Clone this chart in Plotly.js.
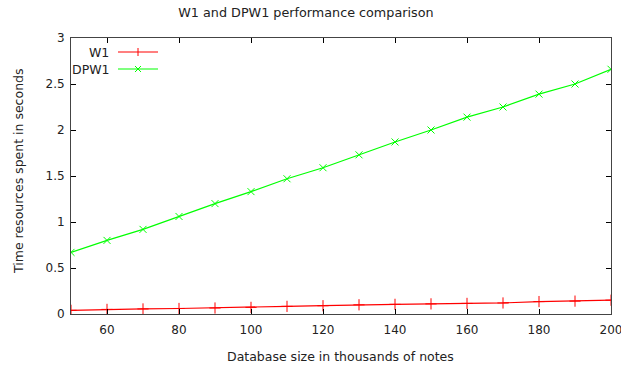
<!DOCTYPE html>
<html><head><meta charset="utf-8">
<script src="https://cdn.plot.ly/plotly-3.0.1.min.js"></script>
<style>html,body{margin:0;padding:0;background:#fff}#c{width:621px;height:366px}</style>
</head><body><div id="c"></div>
<script>
const dbSize = [50,60,70,80,90,100,110,120,130,140,150,160,170,180,190,200];
const w1 = [0.04,0.05,0.055,0.06,0.065,0.072,0.083,0.09,0.10,0.105,0.11,0.115,0.12,0.135,0.14,0.15];
const dpw1 = [0.67,0.80,0.92,1.06,1.20,1.33,1.47,1.59,1.73,1.87,2.00,2.14,2.25,2.39,2.50,2.66];
const seriesNames = ['W1','DPW1'];
const seriesColors = ['#ff0000','#00ff00'];
const xTicks = [60,80,100,120,140,160,180,200];
const yTicks = [0,0.5,1,1.5,2,2.5,3];
const yTickText = ['0','0.5','1','1.5','2','2.5','3'];

const W=621,H=366,L=71,R=10,T=38,B=52;
const pw=W-L-R, ph=H-T-B;
const px=x=>(x-L)/pw, py=y=>(H-B-y)/ph;
const ff='DejaVu Sans, sans-serif';
const font={family:ff,size:12.5,color:'#222'};
const tfont={family:ff,size:12,color:'#222'};

const traces=[
 {x:dbSize,y:w1,name:seriesNames[0],mode:'lines+markers',line:{color:seriesColors[0],width:1.2},
  marker:{symbol:'cross-thin',size:8,line:{color:seriesColors[0],width:1}}},
 {x:dbSize,y:dpw1,name:seriesNames[1],mode:'lines+markers',line:{color:seriesColors[1],width:1.2},
  marker:{symbol:'x-thin',size:7,line:{color:seriesColors[1],width:1}}}
];

const legRows=[52,69];
const shapes=[], annotations=[];
legRows.forEach((yy,i)=>{
  shapes.push({type:'line',xref:'paper',yref:'paper',x0:px(118),x1:px(158),y0:py(yy),y1:py(yy),line:{color:seriesColors[i],width:1.2}});
  if(i===0){
    shapes.push({type:'line',xref:'paper',yref:'paper',x0:px(138),x1:px(138),y0:py(yy-4),y1:py(yy+4),line:{color:seriesColors[i],width:1}});
  } else {
    shapes.push({type:'line',xref:'paper',yref:'paper',x0:px(135),x1:px(141),y0:py(yy-3),y1:py(yy+3),line:{color:seriesColors[i],width:1}});
    shapes.push({type:'line',xref:'paper',yref:'paper',x0:px(135),x1:px(141),y0:py(yy+3),y1:py(yy-3),line:{color:seriesColors[i],width:1}});
  }
  annotations.push({xref:'paper',yref:'paper',x:px(111),y:py(yy),xanchor:'right',yanchor:'middle',showarrow:false,text:seriesNames[i],font:font});
});
annotations.push({xref:'paper',yref:'paper',x:px(340),y:py(356),xanchor:'center',yanchor:'middle',showarrow:false,
  text:'Database size in thousands of notes',font:font});
annotations.push({xref:'paper',yref:'paper',x:px(18),y:py(171),xanchor:'center',yanchor:'middle',showarrow:false,textangle:-90,
  text:'Time resources spent in seconds',font:font});

const layout={
  width:W,height:H,margin:{l:L,r:R,t:T,b:B},
  paper_bgcolor:'#fff',plot_bgcolor:'#fff',showlegend:false,font:font,
  title:{text:'W1 and DPW1 performance comparison',x:px(337),xanchor:'center',y:1-13/H,yanchor:'middle',font:{family:ff,size:12.75,color:'#222'}},
  xaxis:{range:[50,200],tickmode:'array',tickvals:xTicks,ticks:'inside',ticklen:5,tickcolor:'#000',mirror:'allticks',
    showline:true,linecolor:'#444',linewidth:1,showgrid:false,zeroline:false,tickfont:tfont,
    ticklabeloverflow:'allow',ticklabelstandoff:5},
  yaxis:{range:[0,3],tickmode:'array',tickvals:yTicks,ticktext:yTickText,ticks:'inside',ticklen:5,tickcolor:'#000',mirror:'allticks',
    showline:true,linecolor:'#444',linewidth:1,showgrid:false,zeroline:false,tickfont:tfont,ticklabelstandoff:3},
  shapes:shapes,annotations:annotations
};
Plotly.newPlot('c',traces,layout,{staticPlot:true,displayModeBar:false});
</script></body></html>
